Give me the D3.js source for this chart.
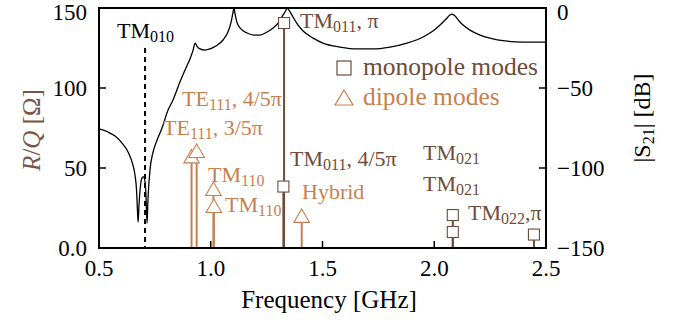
<!DOCTYPE html>
<html>
<head>
<meta charset="utf-8">
<script src="https://d3js.org/d3.v7.min.js"></script>
<style>
  body { margin: 0; background: white; }
  svg text { font-family: "Liberation Serif", "DejaVu Serif", "Times New Roman", serif; }
</style>
</head>
<body>
<script>
// S21 transmission curve (GHz, dB)
var s21Freq = [0.500, 0.540, 0.572, 0.603, 0.630, 0.648, 0.661, 0.668, 0.672, 0.675,
  0.679, 0.686, 0.692, 0.699, 0.706, 0.710, 0.715, 0.719, 0.728, 0.742,
  0.760, 0.782, 0.809, 0.831, 0.862, 0.889, 0.907, 0.921, 0.930, 0.938,
  0.952, 0.974, 0.997, 1.023, 1.055, 1.077, 1.091, 1.100, 1.104, 1.109,
  1.117, 1.135, 1.162, 1.194, 1.220, 1.252, 1.279, 1.305, 1.323, 1.337,
  1.341, 1.350, 1.368, 1.390, 1.413, 1.458, 1.502, 1.578, 1.654, 1.726,
  1.802, 1.878, 1.950, 1.994, 2.026, 2.053, 2.070, 2.079, 2.093, 2.111,
  2.129, 2.160, 2.205, 2.249, 2.317, 2.397, 2.500];
var s21dB = [-75.6, -77.5, -80.0, -84.4, -90.0, -96.3, -104.4, -113.8, -126.3, -133.8,
  -123.1, -110.6, -106.3, -105.6, -108.8, -116.9, -134.4, -120.0, -101.3, -90.0,
  -82.5, -75.0, -63.8, -57.5, -46.3, -37.5, -31.9, -26.3, -21.9, -23.8,
  -25.6, -26.3, -25.6, -23.8, -20.0, -15.0, -8.8, -2.5, 0, -3.8,
  -8.8, -13.1, -15.6, -16.9, -16.9, -15.0, -12.5, -8.8, -4.4, -1.3,
  0, -1.3, -5.6, -10.6, -14.4, -18.8, -21.9, -24.4, -25.6, -25.6,
  -24.4, -21.9, -18.1, -14.4, -10.6, -6.9, -4.4, -3.8, -5.0, -8.1,
  -10.6, -13.8, -16.9, -18.8, -20.6, -21.3, -21.3];

// monopole modes (squares)
var monoFreq = [1.325, 1.328, 2.083, 2.083, 2.446];
var monoRQ = [38.4, 140.6, 10, 20.6, 8.4];
// dipole modes (triangles)
var dipFreq = [0.914, 0.937, 1.012, 1.014, 1.407];
var dipRQ = [56, 59.4, 35.6, 25, 18.8];

var tm010Freq = 0.706;

var xTicks = [0.5, 1.0, 1.5, 2.0, 2.5];
var yTicks = [0, 50, 100, 150];
var y2Ticks = [0, -50, -100, -150];

var monoColor = "#6e4c3b", dipColor = "#c8804f";
var serif = "'Liberation Serif', 'DejaVu Serif', serif";

var W = 680, H = 324;
var L = 99, R = 546, T = 8, B = 248;

var svg = d3.select("body").append("svg").attr("width", W).attr("height", H)
  .attr("font-family", serif);

var x = d3.scaleLinear().domain([0.5, 2.5]).range([L, R]);
var y = d3.scaleLinear().domain([0, 150]).range([B, T]);
var y2 = d3.scaleLinear().domain([-150, 0]).range([B, T]);

// curve
var pts = s21Freq.map(function(f, i) { return [f, s21dB[i]]; });
svg.append("path")
  .datum(pts)
  .attr("fill", "none").attr("stroke", "black").attr("stroke-width", 1.3)
  .attr("d", d3.line().x(function(d) { return x(d[0]); }).y(function(d) { return y2(d[1]); }).curve(d3.curveMonotoneX));

// TM010 dashed line
svg.append("line")
  .attr("x1", x(tm010Freq)).attr("x2", x(tm010Freq))
  .attr("y1", 48).attr("y2", B)
  .attr("stroke", "black").attr("stroke-width", 2).attr("stroke-dasharray", "5,4");

// dipole stems + triangles
dipFreq.forEach(function(f, i) {
  svg.append("line")
    .attr("x1", x(f)).attr("x2", x(f)).attr("y1", y(0)).attr("y2", y(dipRQ[i]))
    .attr("stroke", dipColor).attr("stroke-width", 2);
});
dipFreq.forEach(function(f, i) {
  svg.append("path")
    .attr("d", d3.symbol().type(d3.symbolTriangle).size(105)())
    .attr("transform", "translate(" + x(f) + "," + y(dipRQ[i]) + ")")
    .attr("fill", "white").attr("stroke", dipColor).attr("stroke-width", 1.1);
});

// monopole stems + squares
monoFreq.forEach(function(f, i) {
  svg.append("line")
    .attr("x1", x(f)).attr("x2", x(f)).attr("y1", y(0)).attr("y2", y(monoRQ[i]))
    .attr("stroke", monoColor).attr("stroke-width", 2);
});
monoFreq.forEach(function(f, i) {
  svg.append("rect")
    .attr("x", x(f) - 5.5).attr("y", y(monoRQ[i]) - 5.5)
    .attr("width", 11).attr("height", 11)
    .attr("fill", "white").attr("stroke", monoColor).attr("stroke-width", 1.1);
});

// frame
svg.append("rect").attr("x", L).attr("y", T).attr("width", R - L).attr("height", B - T)
  .attr("fill", "none").attr("stroke", "black").attr("stroke-width", 2);

// ticks (inward)
var tk = 7;
xTicks.slice(1, -1).forEach(function(v) {
  svg.append("line").attr("x1", x(v)).attr("x2", x(v)).attr("y1", B).attr("y2", B - tk)
    .attr("stroke", "black").attr("stroke-width", 1.5);
});
yTicks.slice(1, -1).forEach(function(v) {
  svg.append("line").attr("x1", L).attr("x2", L + tk).attr("y1", y(v)).attr("y2", y(v))
    .attr("stroke", "black").attr("stroke-width", 1.5);
});
y2Ticks.slice(1, -1).forEach(function(v) {
  svg.append("line").attr("x1", R).attr("x2", R - tk).attr("y1", y2(v)).attr("y2", y2(v))
    .attr("stroke", "black").attr("stroke-width", 1.5);
});

var fs = 23;
// tick labels
xTicks.forEach(function(v) {
  svg.append("text").attr("x", x(v)).attr("y", 276).attr("text-anchor", "middle")
    .attr("font-size", fs).text(v.toFixed(1));
});
yTicks.forEach(function(v) {
  svg.append("text").attr("x", 87).attr("y", Math.max(y(v) + 7.5, 20)).attr("text-anchor", "end")
    .attr("font-size", fs).text(v === 0 ? "0.0" : v);
});
y2Ticks.forEach(function(v) {
  svg.append("text").attr("x", 557).attr("y", Math.max(y2(v) + 7.5, 20))
    .attr("font-size", fs).text(v === 0 ? "0" : "\u2212" + Math.abs(v));
});

// axis titles
svg.append("text").attr("x", 329).attr("y", 308).attr("text-anchor", "middle")
  .attr("font-size", 25).text("Frequency [GHz]");

var rq = svg.append("text").attr("transform", "translate(40,130) rotate(-90)")
  .attr("text-anchor", "middle").attr("font-size", 25).attr("fill", "#7a5541");
rq.append("tspan").attr("font-style", "italic").text("R");
rq.append("tspan").text("/");
rq.append("tspan").attr("font-style", "italic").text("Q");
rq.append("tspan").text(" [\u03A9]");

var s21 = svg.append("text").attr("transform", "translate(650,118) rotate(-90)")
  .attr("text-anchor", "middle").attr("font-size", 24).attr("fill", "black");
s21.append("tspan").text("|S");
s21.append("tspan").attr("font-size", 16).attr("dy", 4).text("21");
s21.append("tspan").attr("dy", -4).text("| [dB]");

// annotation helper: main text, subscript, trailing text
function label(px, py, color, main, sub, rest) {
  var t = svg.append("text").attr("x", px).attr("y", py).attr("font-size", 22).attr("fill", color);
  t.append("tspan").text(main);
  if (sub) t.append("tspan").attr("font-size", 16).attr("dy", 4).text(sub);
  if (rest) t.append("tspan").attr("dy", sub ? -4 : 0).text(rest);
  return t;
}

label(117, 38, "black", "TM", "010", "");
label(300, 28, monoColor, "TM", "011", ", \u03C0");
label(182, 106, dipColor, "TE", "111", ", 4/5\u03C0");
label(163, 135, dipColor, "TE", "111", ", 3/5\u03C0");
label(208, 182, dipColor, "TM", "110", "");
label(225, 212, dipColor, "TM", "110", "");
label(290, 166, monoColor, "TM", "011", ", 4/5\u03C0");
label(302, 199, dipColor, "Hybrid", "", "");
label(423, 160, monoColor, "TM", "021", "");
label(423, 191, monoColor, "TM", "021", "");
label(468, 220, monoColor, "TM", "022", ",\u03C0");

// legend
svg.append("rect").attr("x", 337).attr("y", 61).attr("width", 14).attr("height", 14)
  .attr("fill", "white").attr("stroke", monoColor).attr("stroke-width", 1.2);
svg.append("text").attr("x", 363).attr("y", 75).attr("font-size", 25.5).attr("fill", monoColor)
  .text("monopole modes");
svg.append("path")
  .attr("d", "M344,90L353,105L335,105Z")
  .attr("fill", "white").attr("stroke", dipColor).attr("stroke-width", 1.2);
svg.append("text").attr("x", 363).attr("y", 105).attr("font-size", 25.5).attr("fill", dipColor)
  .text("dipole modes");
</script>
</body>
</html>
